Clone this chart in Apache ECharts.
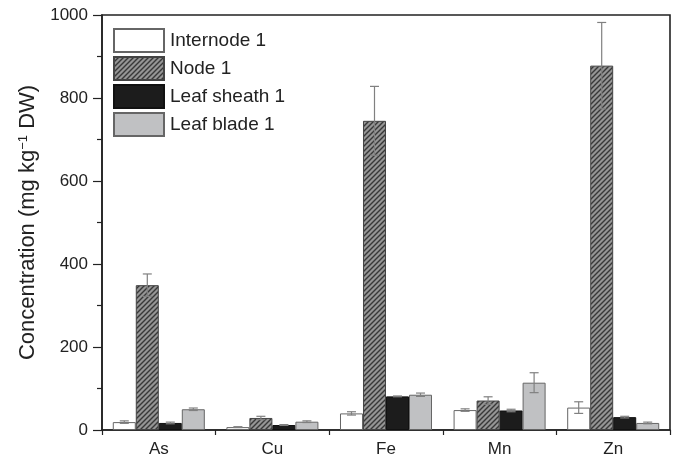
<!DOCTYPE html>
<html><head><meta charset="utf-8">
<script src="https://cdn.jsdelivr.net/npm/echarts@6/dist/echarts.min.js"></script>
<style>html,body{margin:0;padding:0;background:#fff}#c{width:673px;height:458px}</style>
</head><body><div id="c"></div>
<script>
var categories = ['As', 'Cu', 'Fe', 'Mn', 'Zn'];
var seriesNames = ['Internode 1', 'Node 1', 'Leaf sheath 1', 'Leaf blade 1'];
var internode = [19, 7, 40, 48, 54];
var internodeErr = [3, 1, 4, 3, 14];
var node = [349, 29, 745, 71, 878];
var nodeErr = [27, 4, 83, 9, 104];
var sheath = [17, 12, 81, 47, 31];
var sheathErr = [2, 1, 1, 3, 2];
var blade = [50, 20, 85, 114, 17];
var bladeErr = [3, 2, 4, 24, 2];
var yTicks = [0, 200, 400, 600, 800, 1000];

var values = [internode, node, sheath, blade];
var errs = [internodeErr, nodeErr, sheathErr, bladeErr];

function hatch() {
  var s = 5, c = document.createElement('canvas');
  c.width = s; c.height = s;
  var g = c.getContext('2d');
  g.fillStyle = '#959595'; g.fillRect(0, 0, s, s);
  g.strokeStyle = '#383838'; g.lineWidth = 1.4;
  g.beginPath();
  g.moveTo(-1, s + 1); g.lineTo(s + 1, -1);
  g.moveTo(-1, 1); g.lineTo(1, -1);
  g.moveTo(s - 1, s + 1); g.lineTo(s + 1, s - 1);
  g.stroke();
  return c;
}
var fills = ['#ffffff', {image: hatch(), repeat: 'repeat'}, '#1c1c1c', '#c0c1c3'];
var borders = ['#666', '#444', '#111', '#666'];

var FONT = 'Liberation Sans, Arial, Helvetica, sans-serif';
var GAP = 0.19;

var series = [];
values.forEach(function (v, i) {
  series.push({
    name: seriesNames[i], type: 'bar', data: v,
    barGap: '0%', barCategoryGap: (GAP * 100) + '%',
    itemStyle: {color: fills[i], borderColor: borders[i], borderWidth: 1},
    z: 2
  });
});
values.forEach(function (v, i) {
  series.push({
    type: 'custom', z: 5, silent: true,
    data: v.map(function (val, k) { return [k, val, errs[i][k]]; }),
    encode: {x: 0, y: 1},
    renderItem: function (params, api) {
      var k = api.value(0), val = api.value(1), e = api.value(2);
      var band = api.size([1, 0])[0];
      var bw = band * (1 - GAP) / 4;
      var c = api.coord([k, val]);
      var x = c[0] + (i - 1.5) * bw;
      var yt = api.coord([k, val + e])[1];
      var yb = api.coord([k, val - e])[1];
      var hw = 4.5;
      var st = {stroke: '#808080', lineWidth: 1.2};
      return {type: 'group', children: [
        {type: 'line', shape: {x1: x, y1: yt, x2: x, y2: yb}, style: st},
        {type: 'line', shape: {x1: x - hw, y1: yt, x2: x + hw, y2: yt}, style: st},
        {type: 'line', shape: {x1: x - hw, y1: yb, x2: x + hw, y2: yb}, style: st}
      ]};
    }
  });
});

var chart = echarts.init(document.getElementById('c'), null, {renderer: 'canvas'});
chart.setOption({
  animation: false,
  backgroundColor: '#fff',
  textStyle: {fontFamily: FONT},
  grid: {left: 102, right: 3, top: 15, bottom: 26, show: true, borderColor: '#222', borderWidth: 1.6, backgroundColor: 'transparent'},
  legend: {
    orient: 'vertical', left: 108, top: 23,
    itemWidth: 50, itemHeight: 23, itemGap: 3,
    data: seriesNames,
    textStyle: {fontSize: 19, lineHeight: 23, color: '#222', fontFamily: FONT, padding: [0, 0, 0, 1]},
    icon: 'rect'
  },
  xAxis: {
    type: 'category', data: categories,
    axisLine: {lineStyle: {color: '#222', width: 1.6}},
    axisTick: {show: true, length: 5, inside: false, lineStyle: {color: '#222', width: 1.2}},
    axisLabel: {fontSize: 17, color: '#222', margin: 11, fontFamily: FONT}
  },
  yAxis: {
    type: 'value', min: yTicks[0], max: yTicks[yTicks.length - 1], interval: 200,
    name: '{a|Concentration (mg kg}{s|−1}{a| DW)}',
    nameLocation: 'middle', nameGap: 57, nameRotate: 90,
    nameTextStyle: {rich: {
      a: {fontSize: 22, color: '#222', fontFamily: FONT},
      s: {fontSize: 13, color: '#222', fontFamily: FONT, verticalAlign: 'top', padding: [0, 0, 9, 0]}
    }},
    axisLine: {show: true, lineStyle: {color: '#222', width: 1.6}},
    axisTick: {show: true, length: 9, lineStyle: {color: '#222', width: 1.2}},
    minorTick: {show: true, splitNumber: 2, length: 5, lineStyle: {color: '#222', width: 1.2}},
    splitLine: {show: false},
    axisLabel: {fontSize: 17, color: '#222', margin: 14, fontFamily: FONT,
      formatter: function (v) { return String(v); }}
  },
  series: series
});
</script></body></html>
